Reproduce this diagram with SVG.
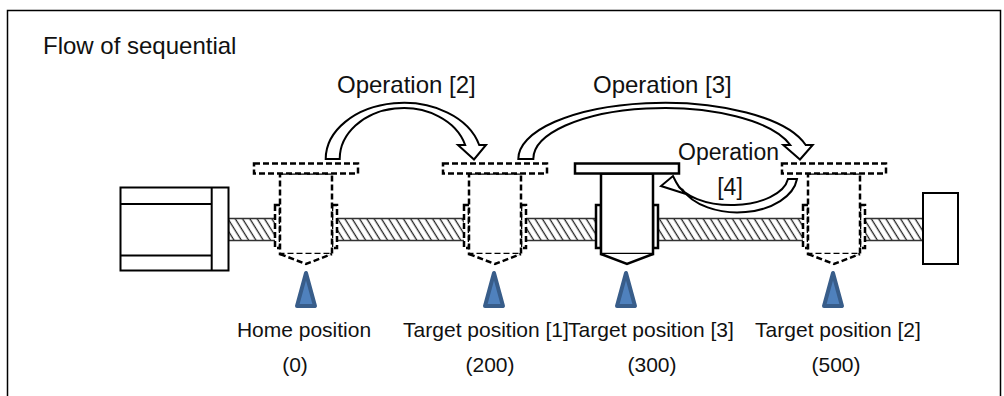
<svg xmlns="http://www.w3.org/2000/svg" xmlns:xlink="http://www.w3.org/1999/xlink" width="1004" height="396" viewBox="0 0 1004 396">
  <style>
    .txt { font-family: "Liberation Sans", Arial, sans-serif; fill: #111; }
    .t24 { font-size: 24px; }
    .t23 { font-size: 23px; }
    .t21 { font-size: 21px; }
    .mid { text-anchor: middle; }
    .line { fill: #fff; stroke: #000; stroke-width: 2; }
    .dash { fill: #fff; stroke: #000; stroke-width: 2.5; stroke-dasharray: 6 3; }
    .solid { fill: #fff; stroke: #000; stroke-width: 2.5; }
    .mark { fill: #4F81BD; stroke: #385D8A; stroke-width: 4; stroke-linejoin: round; }
    .arrow { fill: #fff; stroke: #000; stroke-width: 2; stroke-linejoin: miter; }
  </style>
  <defs>
    <!-- diagonal hatching of the ball screw -->
    <pattern id="hatch" patternUnits="userSpaceOnUse" width="6.2" height="10" patternTransform="rotate(-32)">
      <line x1="3" y1="-1" x2="3" y2="11" stroke="#222" stroke-width="1.3"/>
    </pattern>
    <!-- slider carriage, centred on x=0 -->
    <g id="carriage">
      <rect x="-31" y="205" width="5" height="43"/>
      <rect x="26" y="205" width="5" height="43"/>
      <rect x="-26" y="173.5" width="52" height="80.5"/>
      <path d="M-26,254 L0,264 L26,254"/>
      <rect x="-52" y="163.5" width="104" height="10"/>
    </g>
    <path id="pointer" d="M0,273 L9,306 L-9,306 Z"/>
  </defs>

  <!-- frame -->
  <rect x="7.5" y="10.5" width="993" height="400" fill="#fff" stroke="#000" stroke-width="1.5"/>
  <text class="txt t24" x="43" y="54">Flow of sequential</text>

  <!-- actuator: motor, screw shaft and end support -->
  <g id="shaft">
    <rect x="228.5" y="218.5" width="695" height="22" fill="url(#hatch)" stroke="#333" stroke-width="1.5"/>
  </g>
  <g id="motor" class="line">
    <rect x="120.5" y="187.5" width="108" height="83"/>
    <line x1="211.7" y1="187.5" x2="211.7" y2="270.5"/>
    <line x1="120.5" y1="204" x2="211.7" y2="204"/>
    <line x1="120.5" y1="255.5" x2="211.7" y2="255.5"/>
  </g>
  <g id="end-support" class="line">
    <rect x="923" y="193" width="35" height="71"/>
  </g>

  <!-- carriages at each position -->
  <g id="pos-home">
    <use xlink:href="#carriage" href="#carriage" class="dash" transform="translate(306,0)"/>
    <use xlink:href="#pointer" href="#pointer" class="mark" transform="translate(306,0)"/>
    <text class="txt t21 mid" x="304" y="337">Home position</text>
    <text class="txt t21 mid" x="295" y="372">(0)</text>
  </g>
  <g id="pos-target1">
    <use xlink:href="#carriage" href="#carriage" class="dash" transform="translate(495,0)"/>
    <use xlink:href="#pointer" href="#pointer" class="mark" transform="translate(494,0)"/>
    <text class="txt t21 mid" x="486" y="337">Target position [1]</text>
    <text class="txt t21 mid" x="490" y="372">(200)</text>
  </g>
  <g id="pos-target3">
    <use xlink:href="#carriage" href="#carriage" class="solid" transform="translate(627,0)"/>
    <use xlink:href="#pointer" href="#pointer" class="mark" transform="translate(626,0)"/>
    <text class="txt t21 mid" x="651" y="337">Target position [3]</text>
    <text class="txt t21 mid" x="652" y="372">(300)</text>
  </g>
  <g id="pos-target2">
    <use xlink:href="#carriage" href="#carriage" class="dash" transform="translate(834,0)"/>
    <use xlink:href="#pointer" href="#pointer" class="mark" transform="translate(833,0)"/>
    <text class="txt t21 mid" x="838" y="337">Target position [2]</text>
    <text class="txt t21 mid" x="836" y="372">(500)</text>
  </g>

  <!-- operation arrows -->
  <g id="connectors" class="arrow">
    <path id="op2" d="M325.7,159 A78,56.3 0 0 1 479.2,145 L486,145 L474,159.5 L458,145 L465.2,145 A64,51 0 0 0 339.7,159 Z"/>
    <path id="op3" d="M518.3,159 A146,56.3 0 0 1 805.7,145 L812.7,145 L800,159.5 L783.3,145 L790.3,145 A131,51 0 0 0 533.3,159 Z"/>
    <path id="op4" d="M788,179 L797,179 A60,38 0 0 1 682,189 L686,194 L661,186 L673,176 L676,182 A57,30 0 0 0 788,179 Z"/>
  </g>
  <g id="labels">
    <text class="txt t24" x="337" y="93">Operation [2]</text>
    <text class="txt t24" x="593" y="93">Operation [3]</text>
    <text class="txt t23" x="678" y="160">Operation</text>
    <text class="txt t23 mid" x="730" y="195">[4]</text>
  </g>
</svg>
